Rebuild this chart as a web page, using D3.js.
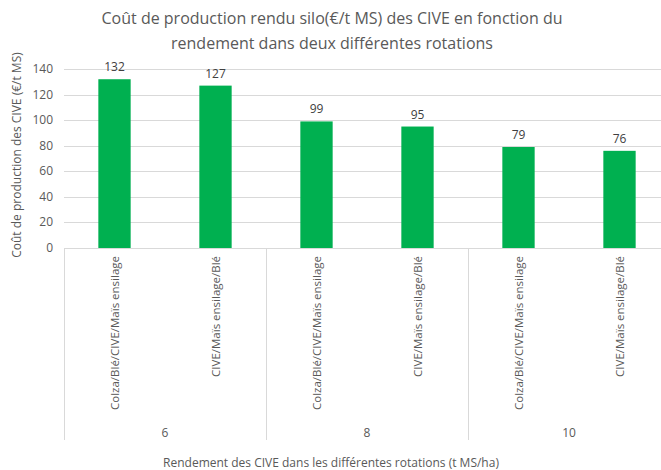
<!DOCTYPE html>
<html>
  <head>
    <script src="https://d3js.org/d3.v7.min.js"></script>
    <style>
      body { margin: 0; background: #fff; overflow: hidden; }
      text { font-family: "Open Sans", "Liberation Sans", sans-serif; fill: #595959; }
    </style>
  </head>
  <body>
    <svg width="661" height="470"></svg>
</body>
</html>
<script>

const rotations = ['Colza/Blé/CIVE/Maïs ensilage', 'CIVE/Maïs ensilage/Blé'];
const rendements = ['6', '8', '10'];
const couts = [132, 127, 99, 95, 79, 76];
const yTicks = [0, 20, 40, 60, 80, 100, 120, 140];

const bars = [];
rendements.forEach((r, i) => {
  rotations.forEach((rot, j) => {
    bars.push({ id: r + '-' + j, rendement: r, rotation: rot, value: couts[i * 2 + j] });
  });
});

const svg = d3.select('svg');
const plotLeft = 64, plotRight = 670, plotTop = 69, plotBottom = 248;

const x = d3.scaleBand()
  .domain(bars.map(d => d.id))
  .range([plotLeft, plotRight])
  .paddingInner(0.68)
  .paddingOuter(0.34);

const y = d3.scaleLinear().domain([0, 140]).range([plotBottom, plotTop]);

const groupX = d3.scaleBand().domain(rendements).range([plotLeft, plotRight]);

// gridlines
svg.append('g')
  .selectAll('line')
  .data(yTicks)
  .enter()
  .append('line')
  .attr('x1', plotLeft)
  .attr('x2', plotRight)
  .attr('y1', d => Math.round(y(d)) + 0.5)
  .attr('y2', d => Math.round(y(d)) + 0.5)
  .style('stroke', '#d9d9d9')
  .style('stroke-width', 1);

// y tick labels
svg.append('g')
  .selectAll('text')
  .data(yTicks)
  .enter()
  .append('text')
  .attr('x', 53)
  .attr('y', d => y(d) + 4)
  .attr('text-anchor', 'end')
  .style('font-size', '12px')
  .text(d => d);

// bars
svg.append('g')
  .selectAll('rect')
  .data(bars)
  .enter()
  .append('rect')
  .attr('x', d => x(d.id))
  .attr('width', x.bandwidth())
  .attr('y', d => y(d.value))
  .attr('height', d => y(0) - y(d.value))
  .style('fill', '#00b050');

// data labels
svg.append('g')
  .selectAll('text')
  .data(bars)
  .enter()
  .append('text')
  .attr('x', d => x(d.id) + x.bandwidth() / 2)
  .attr('y', d => y(d.value) - 8)
  .attr('text-anchor', 'middle')
  .style('font-size', '12px')
  .style('fill', '#404040')
  .text(d => d.value);

// group separators
const seps = rendements.map(r => groupX(r)).concat([plotRight]);
svg.append('g')
  .selectAll('line')
  .data(seps)
  .enter()
  .append('line')
  .attr('x1', d => Math.round(d) + 0.5)
  .attr('x2', d => Math.round(d) + 0.5)
  .attr('y1', plotBottom)
  .attr('y2', 440)
  .style('stroke', '#d9d9d9');

// category labels (rotated)
svg.append('g')
  .selectAll('text')
  .data(bars)
  .enter()
  .append('text')
  .attr('transform', d => `translate(${x(d.id) + x.bandwidth() / 2 + 4},256) rotate(-90)`)
  .attr('text-anchor', 'end')
  .style('font-size', '11.5px')
  .text(d => d.rotation);

// group labels
svg.append('g')
  .selectAll('text')
  .data(rendements)
  .enter()
  .append('text')
  .attr('x', d => groupX(d) + groupX.bandwidth() / 2)
  .attr('y', 437)
  .attr('text-anchor', 'middle')
  .style('font-size', '12px')
  .text(d => d);

// axis titles
svg.append('text')
  .attr('x', 331)
  .attr('y', 467)
  .attr('text-anchor', 'middle')
  .style('font-size', '12px')
  .text('Rendement des CIVE dans les différentes rotations (t MS/ha)');

svg.append('text')
  .attr('transform', 'translate(21,155) rotate(-90)')
  .attr('text-anchor', 'middle')
  .style('font-size', '12px')
  .text('Coût de production des CIVE (€/t MS)');

// title
const title = ['Coût de production rendu silo(€/t MS) des CIVE en fonction du', 'rendement dans deux différentes rotations'];
svg.append('g')
  .selectAll('text')
  .data(title)
  .enter()
  .append('text')
  .attr('x', 332)
  .attr('y', (d, i) => 24 + i * 25)
  .attr('text-anchor', 'middle')
  .style('font-size', '16px')
  .text(d => d);

</script>
